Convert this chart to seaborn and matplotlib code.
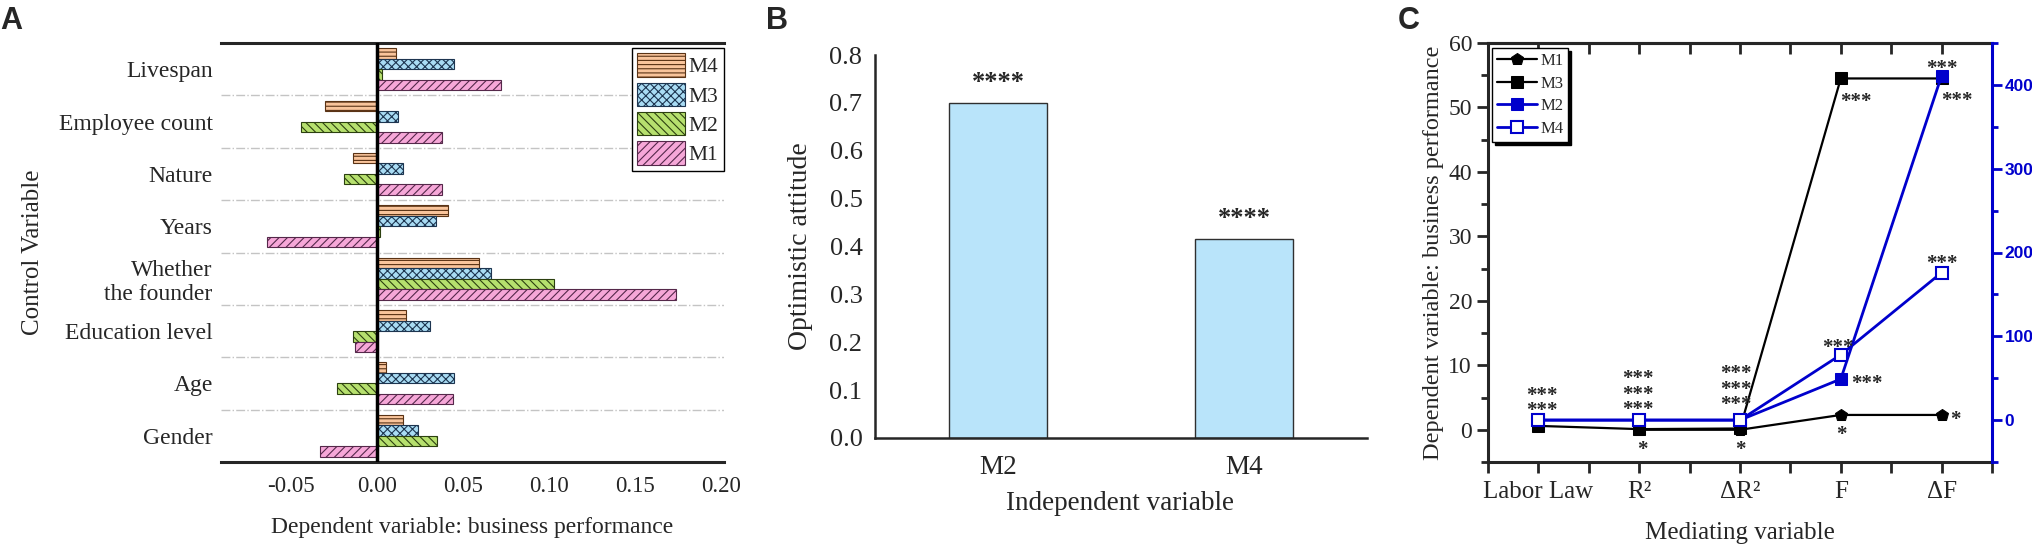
import numpy as np
import pandas as pd
import seaborn as sns
import matplotlib.pyplot as plt
from matplotlib.ticker import FixedLocator, MultipleLocator

# ---- panel A: control variables, coefficient per model
control_vars = ['Livespan', 'Employee count', 'Nature', 'Years',
                'Whether\nthe founder', 'Education level', 'Age', 'Gender']
a_models = ['M4', 'M3', 'M2', 'M1']
a_m4 = [0.011, -0.030, -0.014, 0.041, 0.059, 0.017, 0.005, 0.015]
a_m3 = [0.045, 0.012, 0.015, 0.034, 0.066, 0.031, 0.045, 0.024]
a_m2 = [0.003, -0.044, -0.019, 0.002, 0.103, -0.014, -0.023, 0.035]
a_m1 = [0.072, 0.038, 0.038, -0.064, 0.174, -0.013, 0.044, -0.033]
a_ticks = [-0.05, 0.00, 0.05, 0.10, 0.15, 0.20]

# ---- panel B
b_models = ['M2', 'M4']
b_values = [0.700, 0.415]
b_stars = ['****', '****']

# ---- panel C
c_steps = ['Labor Law', 'R²', 'ΔR²', 'F', 'ΔF']
c_m1 = [np.nan, 0.0, 0.0, 2.3, 2.3]
c_m3 = [0.6, 0.1, 0.2, 54.5, 54.5]
c_m2 = [0.0, 0.0, 0.0, 49.0, 411.0]
c_m4 = [0.0, 0.0, 0.0, 78.0, 176.0]

sns.set_style('ticks')
plt.rcParams['font.family'] = ['Liberation Serif', 'DejaVu Serif']
plt.rcParams['hatch.linewidth'] = 0.8

W, H = 2033, 558
blue = '#0000CC'
fig = plt.figure(figsize=(W / 100, H / 100), dpi=100)
axA = fig.add_axes([221 / W, 1 - 462 / H, 503 / W, 419 / H])
axB = fig.add_axes([875 / W, 1 - 438 / H, 492 / W, 383 / H])
axC = fig.add_axes([1488 / W, 1 - 462 / H, 504 / W, 419 / H])

# ================= A
dfA = pd.DataFrame({
    'variable': control_vars * len(a_models),
    'model': np.repeat(a_models, len(control_vars)),
    'value': a_m4 + a_m3 + a_m2 + a_m1,
})
a_fill = {'M4': '#F9C49B', 'M3': '#A9DCF4', 'M2': '#B6E06E', 'M1': '#F6A7D8'}
a_edge = ['#5a3315', '#1d3550', '#2c4010', '#55284a']
a_hatch = ['----', 'xxxx', '\\\\\\\\', '////']

sns.barplot(data=dfA, x='value', y='variable', hue='model', hue_order=a_models,
            palette=a_fill, orient='h', width=0.8, saturation=1,
            linewidth=0.8, edgecolor='#333333', ax=axA, legend=False)
for cont, h, ec in zip(axA.containers, a_hatch, a_edge):
    for bar in cont:
        bar.set_hatch(h)
        bar.set_edgecolor(ec)

axA.axvline(0, color='black', lw=2.5, zorder=4)
axA.set_xlim(-0.0907, 0.2017)
axA.set_ylim(len(control_vars) - 0.5, -0.5)
axA.set_xticks(a_ticks, ['%.2f' % t for t in a_ticks])
axA.yaxis.set_minor_locator(FixedLocator(np.arange(0.5, len(control_vars) - 1, 1.0)))
axA.grid(axis='y', which='minor', ls='-.', color='#c4c4c4', lw=1.0)
axA.set_axisbelow(True)
axA.tick_params(axis='y', which='both', length=0, pad=6, labelsize=17)
axA.tick_params(axis='x', length=0, pad=10, labelsize=16.5)
for s in ['left', 'right']:
    axA.spines[s].set_visible(False)
for s in ['top', 'bottom']:
    axA.spines[s].set_linewidth(2.2)
axA.set_ylabel('Control Variable', fontsize=18)
axA.set_xlabel('Dependent variable: business performance', fontsize=17)
axA.yaxis.set_label_coords(-0.374, 0.5)
axA.xaxis.set_label_coords(0.5, -0.157)
axA.xaxis.label.set_va('center')
axA.yaxis.label.set_va('center')
legA = axA.legend(axA.containers, a_models, loc='upper right',
                  bbox_to_anchor=(1.0, 1 - 5 / 419), borderaxespad=0,
                  fontsize=15.5, handlelength=2.2, handleheight=1.3,
                  labelspacing=0.25, handletextpad=0.2, borderpad=0.25,
                  fancybox=False, edgecolor='black', framealpha=1)
legA.get_frame().set_linewidth(1.0)

# ================= B
sns.barplot(x=b_models, y=b_values, color='#B9E4FA', saturation=1,
            edgecolor='#2f2f2f', linewidth=1.0, width=0.4, ax=axB)
for i, (v, s) in enumerate(zip(b_values, b_stars)):
    axB.annotate(s, (i, v), xytext=(0, 14), textcoords='offset pixels',
                 ha='center', va='baseline', fontsize=19, fontweight='bold')
axB.set_xlim(-0.5, 1.5)
axB.set_ylim(0, 0.8)
axB.yaxis.set_major_locator(MultipleLocator(0.1))
axB.yaxis.set_major_formatter('{x:.1f}')
axB.tick_params(axis='y', length=0, pad=9, labelsize=19)
axB.tick_params(axis='x', length=0, pad=12, labelsize=19.5)
for s in ['top', 'right']:
    axB.spines[s].set_visible(False)
for s in ['left', 'bottom']:
    axB.spines[s].set_linewidth(1.8)
axB.set_ylabel('Optimistic attitude', fontsize=20)
axB.set_xlabel('Independent variable', fontsize=19.5)
axB.yaxis.set_label_coords(-0.152, 0.5)
axB.xaxis.set_label_coords(0.498, -0.17)
axB.xaxis.label.set_va('center')
axB.yaxis.label.set_va('center')

# ================= C
pos = np.arange(len(c_steps))
ax2 = axC.twinx()
sns.lineplot(x=pos, y=c_m1, ax=axC, color='black', lw=1.6, marker='p',
             markersize=9, mec='black', mfc='black', label='M1')
sns.lineplot(x=pos, y=c_m3, ax=axC, color='black', lw=1.6, marker='s',
             markersize=8, mec='black', mfc='black', label='M3')
sns.lineplot(x=pos, y=c_m2, ax=ax2, color=blue, lw=2.0, marker='s',
             markersize=8, mec=blue, mfc=blue, label='M2')
sns.lineplot(x=pos, y=c_m4, ax=ax2, color=blue, lw=2.0, marker='s',
             markersize=8, mec=blue, mfc='white', mew=1.5, label='M4')
for a in (axC, ax2):
    if a.get_legend() is not None:
        a.get_legend().remove()

# star labels: (series, step, text, dx px, dy px of bottom row, rows)
series = {'m1': (axC, c_m1), 'm3': (axC, c_m3), 'm2': (ax2, c_m2), 'm4': (ax2, c_m4)}
c_stars = [('m4', 0, '***', 3, 14, 2), ('m4', 1, '***', -1, 15, 3),
           ('m1', 1, '*', 3, -15, 1), ('m4', 2, '***', -4, 20, 3),
           ('m1', 2, '*', 0, -15, 1), ('m4', 3, '***', -3, 12, 1),
           ('m2', 3, '***', 26, 0, 1), ('m1', 3, '*', 1, -15, 1),
           ('m3', 3, '***', 15, -19, 1), ('m2', 4, '***', 0, 12, 1),
           ('m3', 4, '***', 15, -18, 1), ('m4', 4, '***', 0, 14, 1),
           ('m1', 4, '*', 14, 0, 1)]
for key, i, txt, dx, dy, rows in c_stars:
    a, vals = series[key]
    # baseline of the bottom row; rows step about 14 px
    a.annotate('\n'.join([txt] * rows), (pos[i], vals[i]),
               xytext=(dx, dy - 10), textcoords='offset pixels',
               ha='center', va='baseline', linespacing=0.69,
               fontsize=15, fontweight='bold', zorder=6)

axC.set_xlim(-0.5, 4.5)
axC.set_xticks(pos, c_steps)
axC.xaxis.set_minor_locator(MultipleLocator(0.5))
axC.tick_params(axis='x', which='both', direction='out', length=8, width=2,
                pad=6, labelsize=18, top=False)
axC.set_ylim(-5, 60)
axC.yaxis.set_major_locator(MultipleLocator(10))
axC.yaxis.set_minor_locator(MultipleLocator(5))
axC.tick_params(axis='y', which='major', direction='out', length=8, width=2,
                labelsize=17, right=False)
axC.tick_params(axis='y', which='minor', direction='out', length=5, width=2,
                right=False)
top = axC.secondary_xaxis('top')
top.set_xticks(pos)
top.set_xticklabels([])
top.xaxis.set_minor_locator(MultipleLocator(0.5))
top.tick_params(axis='x', which='both', direction='in', length=8, width=2)
top.spines['top'].set_linewidth(2.2)

ax2.set_ylim(-50, 450)
ax2.yaxis.set_major_locator(FixedLocator([0, 100, 200, 300, 400]))
ax2.yaxis.set_minor_locator(MultipleLocator(50))
ax2.tick_params(axis='y', which='major', colors=blue, length=7, width=2,
                pad=2, labelsize=12.5)
ax2.tick_params(axis='y', which='minor', colors=blue, length=4, width=2)
for lab in ax2.get_yticklabels():
    lab.set_fontfamily('Liberation Sans')
    lab.set_fontweight('bold')
for s in ['left', 'top', 'bottom']:
    ax2.spines[s].set_visible(False)
ax2.spines['right'].set_color(blue)
ax2.spines['right'].set_linewidth(2.2)
axC.spines['right'].set_visible(False)
for s in ['left', 'top', 'bottom']:
    axC.spines[s].set_linewidth(2.2)
axC.set_ylabel('Dependent variable: business performance', fontsize=17.5)
axC.set_xlabel('Mediating variable', fontsize=18)
axC.yaxis.set_label_coords(-0.109, 0.5)
axC.xaxis.set_label_coords(0.5, -0.169)
axC.xaxis.label.set_va('center')
axC.yaxis.label.set_va('center')

handles = axC.get_lines() + ax2.get_lines()
labels = ['M1', 'M3', 'M2', 'M4']
legC = ax2.legend(handles[:4], labels, loc='upper left',
                  bbox_to_anchor=(4 / 504, 1 - 5 / 419), borderaxespad=0,
                  fontsize=12, handlelength=2.4, handletextpad=0.2,
                  labelspacing=0.4, borderpad=0.3, fancybox=False,
                  edgecolor='black', framealpha=1,
                  shadow={'color': 'black', 'alpha': 1})
legC.get_frame().set_linewidth(1.0)

# panel letters
for x, letter in [(0, 'A'), (766, 'B'), (1398, 'C')]:
    fig.text(x / W, 1 - 6 / H, letter, ha='left', va='top', fontsize=22,
             fontweight='bold', family='Liberation Sans')

fig.savefig('out.png', dpi=100)
